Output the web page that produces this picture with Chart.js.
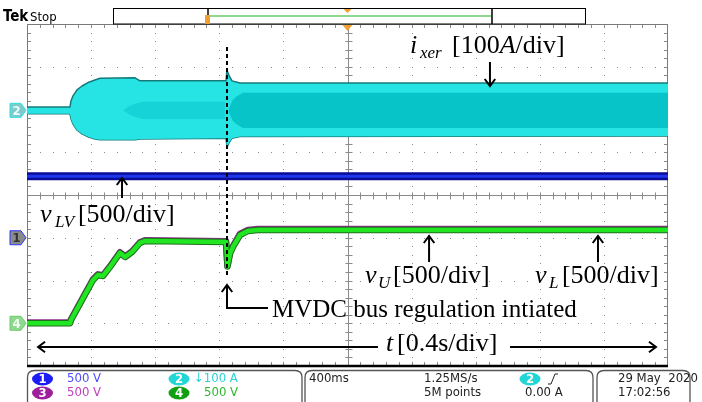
<!DOCTYPE html>
<html>
<head>
<meta charset="utf-8">
<script src="https://cdn.jsdelivr.net/npm/chart.js@4.4.1/dist/chart.umd.min.js"></script>
<style>
  html, body { margin: 0; padding: 0; background: #fff; overflow: hidden; }
  canvas { display: block; }
</style>
</head>
<body>
<canvas id="scope" width="702" height="402"></canvas>
<script>
// time in seconds, 0.4 s/div, trigger at screen centre
// ch2: transformer current i_xer (A), drawn as its envelope
const ch2Time  = [-2, -1.7317, -1.7254, -1.7129, -1.688, -1.6568, -1.6193, -1.5757, -1.5445, -1.3261, -1.2948, -0.7582, -0.752, -0.7395, -0.7207, -0.6708, 2];
const ch2Upper = [8, 8, 22, 34, 48, 57, 65, 71, 75, 76, 69, 69, 94, 82, 69, 64, 64];
const ch2Lower = [-8, -8, -20, -32, -46, -55, -62, -67, -69, -69, -67, -65, -86, -76, -65, -61, -60];
// darker inner part of the current band, before and after regulation starts
const ch2EarlyTime  = [-1.40, -1.36, -1.32, -1.28, -0.765];
const ch2EarlyUpper = [0, 10, 16, 20, 20];
const ch2EarlyLower = [0, -10, -16, -20, -20];
const ch2LateTime  = [-0.7395, -0.715, -0.69, -0.652, 2];
const ch2LateUpper = [5, 25, 33, 41, 41];
const ch2LateLower = [-5, -25, -33, -41, -41];

// ch1: v_LV (V)
const ch1Time = [-2, 2];
const vLV = [720, 720];

// ch4: v_U and ch3: v_L (V)
const ch4Time = [-2, -1.7317, -1.7254, -1.6568, -1.588, -1.557, -1.526, -1.482, -1.42, -1.388, -1.345, -1.295, -1.264, -0.7582, -0.7489, -0.733, -0.7145, -0.671, -0.621, -0.559, 2];
const vU = [0, 0, 38, 272, 506, 564, 553, 658, 822, 775, 833, 939, 962, 950, 663, 816, 892, 1032, 1080, 1091, 1091];
const vL = [8, 8, 46, 280, 514, 572, 561, 666, 830, 783, 841, 947, 970, 960, 673, 826, 902, 1044, 1092, 1103, 1103];

// MVDC regulation start marker
const mvdcTime = -0.752;
const mvdcSpan = [3.46, -1.87];

// vertical settings: volts (or amps) per div and ground position in div
const ch1 = { scale: 500, pos: -1 };
const ch2 = { scale: 100, pos: 1.98 };
const ch3 = { scale: 500, pos: -3 };
const ch4 = { scale: 500, pos: -3 };

const serif = '"Liberation Serif", "DejaVu Serif", serif';
const tekFont = '"Liberation Sans Narrow", "DejaVu Sans Condensed", "Roboto Condensed", "Liberation Sans", sans-serif';

function pts(times, vals, ch) {
  return times.map((t, i) => ({ x: t, y: ch.pos + vals[i] / ch.scale }));
}

function line(data, color, width, order, extra) {
  return Object.assign({
    data: data, borderColor: color, borderWidth: width, order: order,
    pointRadius: 0, tension: 0, fill: false, borderJoinStyle: 'round', borderCapStyle: 'butt'
  }, extra || {});
}

const none = 'rgba(0,0,0,0)';
const datasets = [
  line([{ x: mvdcTime, y: mvdcSpan[0] }, { x: mvdcTime, y: mvdcSpan[1] }], '#000', 2, 0, { borderDash: [4, 3] }),
  line(pts(ch4Time, vU, ch4), '#22e622', 4.5, 1),
  line(pts(ch4Time, vU, ch4), '#1f6f1f', 6.5, 2),
  line(pts(ch4Time, vL, ch3), '#8a2c8a', 6.5, 3),
  line(pts(ch1Time, vLV, ch1), '#1e36ec', 3, 4),
  line(pts(ch1Time, vLV, ch1), '#0a0c96', 8, 5),
  line(pts(ch2LateTime, ch2LateUpper, ch2), none, 0, 6, { fill: '+1', backgroundColor: '#07c4c8' }),
  line(pts(ch2LateTime, ch2LateLower, ch2), none, 0, 7),
  line(pts(ch2EarlyTime, ch2EarlyUpper, ch2), none, 0, 8, { fill: '+1', backgroundColor: '#15d3d6' }),
  line(pts(ch2EarlyTime, ch2EarlyLower, ch2), none, 0, 9),
  line(pts(ch2Time, ch2Upper, ch2), '#167a7a', 1.5, 10, { fill: '+1', backgroundColor: '#26e4e4' }),
  line(pts(ch2Time, ch2Lower, ch2), '#167a7a', 1.5, 11)
];

function drawGraticule(chart) {
  const { ctx, chartArea: a, scales: { x, y } } = chart;
  ctx.save();
  ctx.fillStyle = '#8a8a8a';
  for (let k = 1; k < 10; k++) {
    if (k === 5) continue;
    const px = Math.round(x.getPixelForValue(-2 + 0.4 * k));
    for (let i = 1; i < 40; i++) {
      ctx.fillRect(px, Math.round(y.getPixelForValue(-4 + 0.2 * i)), 1, 1);
    }
  }
  for (let j = 1; j < 8; j++) {
    if (j === 4) continue;
    const py = Math.round(y.getPixelForValue(-4 + j));
    for (let i = 1; i < 50; i++) {
      ctx.fillRect(Math.round(x.getPixelForValue(-2 + 0.08 * i)), py, 1, 1);
    }
  }
  ctx.strokeStyle = '#8a8a8a';
  ctx.lineWidth = 1;
  const cx = Math.round(x.getPixelForValue(0)) + 0.5;
  const cy = Math.round(y.getPixelForValue(0)) + 0.5;
  ctx.beginPath();
  ctx.moveTo(cx, a.top); ctx.lineTo(cx, a.bottom);
  ctx.moveTo(a.left, cy); ctx.lineTo(a.right, cy);
  for (let i = 1; i < 40; i++) {
    const py = Math.round(y.getPixelForValue(-4 + 0.2 * i)) + 0.5;
    ctx.moveTo(cx - 3, py); ctx.lineTo(cx + 4, py);
    ctx.moveTo(a.left, py); ctx.lineTo(a.left + 4, py);
    ctx.moveTo(a.right - 4, py); ctx.lineTo(a.right, py);
  }
  for (let i = 1; i < 50; i++) {
    const px = Math.round(x.getPixelForValue(-2 + 0.08 * i)) + 0.5;
    ctx.moveTo(px, cy - 3); ctx.lineTo(px, cy + 4);
    ctx.moveTo(px, a.top); ctx.lineTo(px, a.top + 4);
    ctx.moveTo(px, a.bottom - 4); ctx.lineTo(px, a.bottom);
  }
  ctx.stroke();
  ctx.strokeStyle = '#7a7a7a';
  ctx.strokeRect(a.left + 0.5, a.top + 0.5, a.right - a.left - 1, a.bottom - a.top);
  ctx.restore();
}

// annotations, placed in data units (s, div)
const arrows = [
  { x: 0.889, from: 3.111, to: 2.55 },
  { x: -1.407, from: -0.07, to: 0.398 },
  { x: 0.509, from: -1.567, to: -0.959 },
  { x: 1.563, from: -1.567, to: -0.959 }
];
const labels = [
  { main: 'i', sub: 'xer', x: 0.39, subX: 0.452, bx: 0.652, y: 3.322, rest: [['[100', 0], ['A', 1], ['/div]', 0]] },
  { main: 'v', sub: 'LV', x: -1.919, subX: -1.825, bx: -1.682, y: -0.632, rest: [['[500/div]', 0]] },
  { main: 'v', sub: 'U', x: 0.109, subX: 0.19, bx: 0.284, y: -2.058, rest: [['[500/div]', 0]] },
  { main: 'v', sub: 'L', x: 1.17, subX: 1.257, bx: 1.338, y: -2.058, rest: [['[500/div]', 0]] },
  { main: 't', sub: '', x: 0.24, subX: 0.3, bx: 0.309, y: -3.649, rest: [['[0.4s/div]', 0]] }
];

function arrowHead(ctx, x, y, dx, dy) {
  const s = 7;
  ctx.beginPath();
  ctx.moveTo(x - dx * s + dy * s * 0.75, y - dy * s + dx * s * 0.75);
  ctx.lineTo(x, y);
  ctx.lineTo(x - dx * s - dy * s * 0.75, y - dy * s - dx * s * 0.75);
  ctx.stroke();
}

function drawAnnotations(chart) {
  const { ctx, scales: { x, y } } = chart;
  ctx.save();
  ctx.strokeStyle = '#000';
  ctx.fillStyle = '#000';
  ctx.lineWidth = 2;
  ctx.lineCap = 'butt';
  arrows.forEach(a => {
    const px = x.getPixelForValue(a.x);
    const y0 = y.getPixelForValue(a.from), y1 = y.getPixelForValue(a.to);
    ctx.beginPath(); ctx.moveTo(px, y0); ctx.lineTo(px, y1); ctx.stroke();
    arrowHead(ctx, px, y1, 0, y1 > y0 ? 1 : -1);
  });
  // MVDC callout
  const mx = x.getPixelForValue(mvdcTime);
  const tipY = y.getPixelForValue(-2.105), cornerY = y.getPixelForValue(-2.643);
  ctx.beginPath();
  ctx.moveTo(mx, tipY); ctx.lineTo(mx, cornerY); ctx.lineTo(x.getPixelForValue(-0.496), cornerY);
  ctx.stroke();
  arrowHead(ctx, mx, tipY, 0, -1);
  // time arrows
  const ty = y.getPixelForValue(-3.556);
  const l0 = x.getPixelForValue(-1.931), l1 = x.getPixelForValue(0.19);
  const r0 = x.getPixelForValue(1.014), r1 = x.getPixelForValue(1.925);
  ctx.beginPath(); ctx.moveTo(l1, ty); ctx.lineTo(l0, ty); ctx.moveTo(r0, ty); ctx.lineTo(r1, ty); ctx.stroke();
  arrowHead(ctx, l0, ty, -1, 0);
  arrowHead(ctx, r1, ty, 1, 0);

  ctx.textBaseline = 'alphabetic';
  ctx.textAlign = 'left';
  labels.forEach(l => {
    const base = y.getPixelForValue(l.y);
    ctx.font = 'italic 26px ' + serif;
    ctx.fillText(l.main, x.getPixelForValue(l.x), base);
    if (l.sub) {
      ctx.font = 'italic 17px ' + serif;
      ctx.fillText(l.sub, x.getPixelForValue(l.subX), base + 5);
    }
    let cx = x.getPixelForValue(l.bx);
    l.rest.forEach(([txt, it]) => {
      ctx.font = (it ? 'italic ' : '') + '26px ' + serif;
      ctx.fillText(txt, cx, base);
      cx += ctx.measureText(txt).width;
    });
  });
  ctx.font = '25px ' + serif;
  ctx.fillText('MVDC bus regulation intiated', x.getPixelForValue(-0.471), y.getPixelForValue(-2.854));
  ctx.restore();
}

function roundBox(ctx, x0, y0, x1, y1, r) {
  ctx.beginPath();
  ctx.moveTo(x0 + r, y0);
  ctx.lineTo(x1 - r, y0);
  ctx.quadraticCurveTo(x1, y0, x1, y0 + r);
  ctx.lineTo(x1, y1 - r);
  ctx.quadraticCurveTo(x1, y1, x1 - r, y1);
  ctx.lineTo(x0 + r, y1);
  ctx.quadraticCurveTo(x0, y1, x0, y1 - r);
  ctx.lineTo(x0, y0 + r);
  ctx.quadraticCurveTo(x0, y0, x0 + r, y0);
  ctx.stroke();
}

function pill(ctx, cx, cy, fill, label) {
  ctx.fillStyle = fill;
  ctx.beginPath();
  ctx.ellipse(cx, cy, 10.5, 6.5, 0, 0, Math.PI * 2);
  ctx.fill();
  ctx.fillStyle = '#fff';
  ctx.font = 'bold 13px ' + tekFont;
  ctx.textAlign = 'center';
  ctx.fillText(label, cx, cy + 1);
  ctx.textAlign = 'left';
}

function chMarker(ctx, py, label, fill, stroke, color) {
  ctx.beginPath();
  ctx.moveTo(10, py - 7); ctx.lineTo(21, py - 7); ctx.lineTo(26, py);
  ctx.lineTo(21, py + 7); ctx.lineTo(10, py + 7); ctx.closePath();
  ctx.fillStyle = fill; ctx.fill();
  ctx.strokeStyle = stroke; ctx.lineWidth = 1; ctx.stroke();
  ctx.fillStyle = color;
  ctx.font = 'bold 13px ' + tekFont;
  ctx.textAlign = 'center';
  ctx.fillText(label, 16.5, py + 1);
  ctx.textAlign = 'left';
}

function drawFrame(chart) {
  const { ctx, chartArea: a, scales: { x, y } } = chart;
  ctx.save();
  // bottom edge of the graticule
  ctx.strokeStyle = '#000';
  ctx.lineWidth = 2.5;
  ctx.beginPath(); ctx.moveTo(a.left, a.bottom); ctx.lineTo(a.right, a.bottom); ctx.stroke();

  // header with record bar
  ctx.textBaseline = 'alphabetic';
  ctx.fillStyle = '#000';
  ctx.font = 'bold 15px ' + tekFont;
  ctx.fillText('Tek', 3, 21);
  ctx.font = '13px ' + tekFont;
  ctx.fillText('Stop', 30, 21);
  ctx.strokeStyle = '#000'; ctx.lineWidth = 1;
  ctx.strokeRect(113.5, 8.5, 472, 15.5);
  const r0 = 208, r1 = 492;
  ctx.lineWidth = 1.5;
  ctx.beginPath(); ctx.moveTo(r0, 9); ctx.lineTo(r0, 24); ctx.moveTo(r1, 9); ctx.lineTo(r1, 24); ctx.stroke();
  ctx.strokeStyle = '#22b022'; ctx.lineWidth = 1.2;
  ctx.beginPath(); ctx.moveTo(r0 + 2, 16); ctx.lineTo(r1 - 1, 16); ctx.stroke();
  ctx.fillStyle = '#f0a030';
  ctx.fillRect(r0 - 3, 15, 5, 9);
  const tx = x.getPixelForValue(0);
  ctx.beginPath(); ctx.moveTo(tx - 4, 9); ctx.lineTo(tx + 4, 9); ctx.lineTo(tx, 13); ctx.closePath(); ctx.fill();
  ctx.beginPath(); ctx.moveTo(tx - 5, a.top + 1); ctx.lineTo(tx + 5, a.top + 1); ctx.lineTo(tx, a.top + 7); ctx.closePath(); ctx.fill();

  // channel ground markers
  ctx.textBaseline = 'middle';
  chMarker(ctx, y.getPixelForValue(ch2.pos), '2', '#7fcaca', '#2fe0e0', '#eaffff');
  chMarker(ctx, y.getPixelForValue(ch1.pos), '1', '#8a8a8a', '#2a36ff', '#333');
  chMarker(ctx, y.getPixelForValue(ch4.pos), '4', '#8fd88f', '#6ccc6c', '#f2fff2');

  // status boxes
  ctx.strokeStyle = '#555'; ctx.lineWidth = 1.3;
  roundBox(ctx, 27.5, 370.5, 302, 410, 7);
  roundBox(ctx, 305, 370.5, 593, 410, 7);
  roundBox(ctx, 597, 370.5, 690, 410, 7);
  const row1 = 379, row2 = 393;
  pill(ctx, 42.5, row1, '#1c1cf5', '1');
  pill(ctx, 42.5, row2, '#9c1f9c', '3');
  pill(ctx, 179, row1, '#22d6d6', '2');
  pill(ctx, 179, row2, '#12a012', '4');
  pill(ctx, 530, row1, '#22d6d6', '2');
  ctx.font = '13px ' + tekFont;
  ctx.fillStyle = '#4d4dff'; ctx.fillText('500 V', 67, row1);
  ctx.fillStyle = '#c23cc2'; ctx.fillText('500 V', 67, row2);
  ctx.fillStyle = '#2cd2d2'; ctx.fillText('\u2193100 A', 194, row1);
  ctx.fillStyle = '#2fb82f'; ctx.fillText('500 V', 204, row2);
  ctx.fillStyle = '#222';
  ctx.fillText('400ms', 309, row1);
  ctx.fillText('1.25MS/s', 424, row1);
  ctx.fillText('5M points', 424, row2);
  ctx.fillText('0.00 A', 525, row2);
  ctx.fillText('29 May  2020', 618, row1);
  ctx.fillText('17:02:56', 618, row2);
  // rising-edge trigger symbol
  ctx.strokeStyle = '#222'; ctx.lineWidth = 1;
  ctx.beginPath();
  ctx.moveTo(548, row1 + 5); ctx.lineTo(551, row1 + 5); ctx.lineTo(555, row1 - 5); ctx.lineTo(558, row1 - 5);
  ctx.stroke();
  ctx.restore();
}

const scopePlugin = {
  id: 'scope',
  beforeDatasetsDraw(chart) { drawGraticule(chart); },
  afterDatasetsDraw(chart) { drawAnnotations(chart); },
  afterDraw(chart) { drawFrame(chart); }
};

new Chart(document.getElementById('scope'), {
  type: 'line',
  data: { datasets: datasets },
  options: {
    responsive: false,
    devicePixelRatio: 1,
    animation: false,
    layout: { padding: { left: 27, right: 34, top: 24, bottom: 36 } },
    scales: {
      x: { type: 'linear', min: -2, max: 2, display: false },
      y: { type: 'linear', min: -4, max: 4, display: false }
    },
    plugins: { legend: { display: false }, tooltip: { enabled: false } }
  },
  plugins: [scopePlugin]
});
</script>
</body>
</html>
